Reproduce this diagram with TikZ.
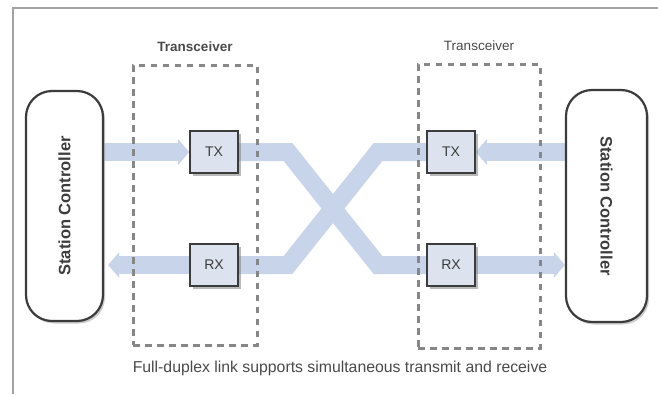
\documentclass[tikz,border=0pt]{standalone}
\usepackage{fontspec}
\usepackage{graphicx}
\setmainfont{Liberation Sans}
\usetikzlibrary{arrows.meta,shadows}

\definecolor{bandblue}{HTML}{C8D4EA}
\definecolor{boxfill}{HTML}{DCE3EE}
\definecolor{ink}{HTML}{3C3C3C}
\definecolor{dashgray}{HTML}{878787}
\definecolor{framegray}{HTML}{A2A2A2}
\definecolor{captiongray}{HTML}{4A4A4A}

\pgfdeclarelayer{paper}
\pgfdeclarelayer{bands}
\pgfdeclarelayer{outlines}
\pgfsetlayers{paper,bands,outlines,main}

\tikzset{
  frameline/.style={draw=framegray, line width=2pt},
  controller/.style={draw=ink, line width=2.2pt, rounded corners=26pt, fill=white,
    inner sep=0pt, font=\fontsize{16.5}{18}\selectfont\bfseries, text=ink,
    drop shadow={shadow xshift=2pt, shadow yshift=-2.5pt, fill=black!40, opacity=0.5}},
  transceiver/.style={draw=dashgray, line width=3pt, dash pattern=on 6.5pt off 5.5pt,
    inner sep=0pt},
  unitbox/.style={draw=ink, fill=boxfill, line width=1.6pt, minimum width=48pt,
    minimum height=42pt, inner sep=0pt, font=\fontsize{14}{16}\selectfont, text=ink,
    drop shadow={shadow xshift=2.5pt, shadow yshift=-2.5pt, fill=black!50, opacity=0.55}},
  band/.style={draw=bandblue, line width=18pt, line join=miter},
  bandarrow/.style={band, -{Triangle[length=11pt,width=25pt]}},
  label/.style={font=\fontsize{14}{16}\selectfont, text=captiongray, inner sep=0pt},
}

\begin{document}
\begin{tikzpicture}[x=1pt,y=-1pt]
  \useasboundingbox (0,0) rectangle (658,394);
  \begin{pgfonlayer}{paper}
    \fill[white] (0,0) rectangle (658,394);
  \end{pgfonlayer}

  % outer frame (top and left edges)
  \coordinate (frameTL) at (13,8);
  \coordinate (frameTR) at (658,8);
  \coordinate (frameBL) at (13,394);
  \draw[frameline] (frameTR) -- (frameTL) -- (frameBL);

  % station controllers
  \node[controller, minimum width=77pt, minimum height=230pt] (scL) at (64.5,206)
    {\rotatebox{90}{Station Controller}};
  \node[controller, minimum width=81pt, minimum height=232pt] (scR) at (606.5,206)
    {\rotatebox{-90}{Station Controller}};

  % transmitter / receiver units
  \node[unitbox] (txL) at (214,152) {TX};
  \node[unitbox] (rxL) at (214,265) {RX};
  \node[unitbox] (txR) at (451,152) {TX};
  \node[unitbox] (rxR) at (451,265) {RX};

  % signal bands, kept beneath everything else
  \begin{pgfonlayer}{bands}
    \draw[bandarrow] (scL.east |- txL.west) -- (txL.west);
    \draw[bandarrow] (rxL.west) -- ([xshift=4pt]scL.east |- rxL.west);
    \draw[bandarrow] (scR.west |- txR.east) -- (txR.east);
    \draw[bandarrow] (rxR.east) -- (scR.west |- rxR.east);
    \draw[band] (txL.east) -- (288,152) -- (378,265) -- (rxR.west);
    \draw[band] (rxL.east) -- (288,265) -- (378,152) -- (txR.west);
  \end{pgfonlayer}

  % transceiver outlines and titles
  \begin{pgfonlayer}{outlines}
    \node[transceiver, minimum width=124pt, minimum height=280pt] (trL) at (195,205) {};
    \node[transceiver, minimum width=122pt, minimum height=284pt] (trR) at (479,206) {};
  \end{pgfonlayer}
  \node[label, font=\fontsize{13.5}{16}\selectfont\bfseries] (trLlabel) at (195,47) {Transceiver};
  \node[label, font=\fontsize{13.5}{16}\selectfont] (trRlabel) at (479,46) {Transceiver};

  % caption
  \node[label, font=\fontsize{15.8}{18}\selectfont] (caption) at (340,368)
    {Full-duplex link supports simultaneous transmit and receive};
\end{tikzpicture}
\end{document}
